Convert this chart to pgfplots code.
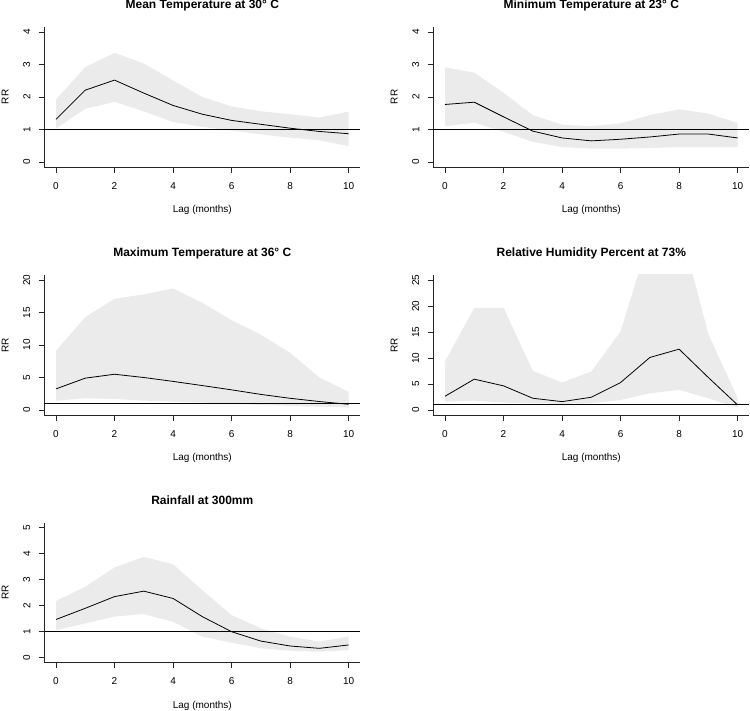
\documentclass[border=0pt]{standalone}
\usepackage{fontspec}
\setmainfont{Liberation Sans}
\usepackage{pgfplots}
\pgfplotsset{compat=1.18}
\definecolor{bandgray}{RGB}{235,235,235}

\pgfplotsset{
  rrpanel/.style={
    scale only axis, width=316pt, height=140.4pt, anchor=south west,
    axis x line*=bottom, axis y line*=left,
    axis line style={-, line width=0.9pt, black!85},
    tick align=outside, major tick length=5.5pt,
    tick style={line width=0.9pt, black!85},
    xmin=-0.4, xmax=10.4, xtick={0,2,4,6,8,10},
    /pgf/number format/assume math mode=true,
    tick label style={font=\fontsize{10}{12}\selectfont},
    xticklabel style={yshift=-6pt},
    yticklabel style={xshift=-5pt, rotate=90, anchor=south},
    label style={font=\fontsize{10}{12}\selectfont},
    xlabel={Lag (months)}, ylabel={RR},
    xlabel style={at={(axis description cs:0.5,-0.306)}, anchor=center},
    ylabel style={at={(axis description cs:-0.1235,0.5)}, anchor=center},
    every axis title shift=0pt,
    title style={at={(axis description cs:0.5,1.127)}, anchor=base, font=\fontsize{12}{14}\bfseries\selectfont},
  },
}

\begin{document}
\begin{tikzpicture}
\useasboundingbox (0,0) rectangle (750pt,710pt);

% Mean temperature
\begin{axis}[rrpanel, at={(44.3pt,542.8pt)}, ymin=-0.16, ymax=4.16, ytick={0,1,2,3,4},
  title={Mean Temperature at 30° C}]
\addplot[fill=bandgray, draw=none] coordinates {
 (0,1.92) (1,2.92) (2,3.36) (3,3.03) (4,2.51) (5,2.00) (6,1.71) (7,1.56) (8,1.47) (9,1.37) (10,1.55)
 (10,0.49) (9,0.67) (8,0.75) (7,0.85) (6,0.97) (5,1.08) (4,1.23) (3,1.56) (2,1.85) (1,1.64) (0,1.03)} -- cycle;
\addplot[black, line width=0.8pt] coordinates {
 (0,1.31) (1,2.21) (2,2.52) (3,2.12) (4,1.74) (5,1.47) (6,1.28) (7,1.16) (8,1.04) (9,0.94) (10,0.87)};
\addplot[black, line width=0.8pt] coordinates {(-0.4,1) (10.4,1)};
\end{axis}

% Minimum temperature
\begin{axis}[rrpanel, at={(433.3pt,542.8pt)}, ymin=-0.16, ymax=4.16, ytick={0,1,2,3,4},
  title={Minimum Temperature at 23° C}]
\addplot[fill=bandgray, draw=none] coordinates {
 (0,2.91) (1,2.75) (2,2.13) (3,1.44) (4,1.15) (5,1.10) (6,1.19) (7,1.44) (8,1.62) (9,1.49) (10,1.20)
 (10,0.46) (9,0.46) (8,0.46) (7,0.43) (6,0.41) (5,0.41) (4,0.46) (3,0.62) (2,0.93) (1,1.21) (0,1.10)} -- cycle;
\addplot[black, line width=0.8pt] coordinates {
 (0,1.77) (1,1.84) (2,1.39) (3,0.95) (4,0.74) (5,0.65) (6,0.70) (7,0.77) (8,0.86) (9,0.86) (10,0.74)};
\addplot[black, line width=0.8pt] coordinates {(-0.4,1) (10.4,1)};
\end{axis}

% Maximum temperature
\begin{axis}[rrpanel, at={(44.3pt,294.8pt)}, ymin=-0.8, ymax=20.8, ytick={0,5,10,15,20},
  title={Maximum Temperature at 36° C}]
\addplot[fill=bandgray, draw=none] coordinates {
 (0,9.1) (1,14.3) (2,17.1) (3,17.8) (4,18.7) (5,16.5) (6,13.8) (7,11.6) (8,8.8) (9,5.0) (10,2.8)
 (10,0.41) (9,0.52) (8,0.62) (7,0.77) (6,0.98) (5,1.13) (4,1.30) (3,1.44) (2,1.70) (1,1.80) (0,1.44)} -- cycle;
\addplot[black, line width=0.8pt] coordinates {
 (0,3.25) (1,4.90) (2,5.50) (3,5.00) (4,4.40) (5,3.76) (6,3.10) (7,2.40) (8,1.80) (9,1.30) (10,0.88)};
\addplot[black, line width=0.8pt] coordinates {(-0.4,1) (10.4,1)};
\end{axis}

% Relative humidity
\begin{axis}[rrpanel, at={(433.3pt,294.8pt)}, ymin=-1, ymax=26, ytick={0,5,10,15,20,25},
  title={Relative Humidity Percent at 73\%}]
\addplot[fill=bandgray, draw=none] coordinates {
 (0,9.34) (1,19.65) (2,19.65) (3,7.54) (4,5.28) (5,7.40) (6,15.1) (7,33.4) (8,36.0) (9,14.6) (10,2.3)
 (10,0.45) (9,2.26) (8,3.87) (7,3.20) (6,1.93) (5,1.29) (4,1.16) (3,1.29) (2,1.42) (1,1.80) (0,1.60)} -- cycle;
\addplot[black, line width=0.8pt] coordinates {
 (0,2.64) (1,5.93) (2,4.64) (3,2.26) (4,1.61) (5,2.45) (6,5.28) (7,10.1) (8,11.7) (9,6.25) (10,0.97)};
\addplot[black, line width=0.8pt] coordinates {(-0.4,1) (10.4,1)};
\end{axis}

% Rainfall
\begin{axis}[rrpanel, at={(44.3pt,47.1pt)}, ymin=-0.2, ymax=5.2, ytick={0,1,2,3,4,5},
  title={Rainfall at 300mm}]
\addplot[fill=bandgray, draw=none] coordinates {
 (0,2.18) (1,2.73) (2,3.47) (3,3.88) (4,3.59) (5,2.60) (6,1.64) (7,1.13) (8,0.81) (9,0.62) (10,0.81)
 (10,0.29) (9,0.23) (8,0.27) (7,0.36) (6,0.58) (5,0.81) (4,1.38) (3,1.68) (2,1.58) (1,1.32) (0,1.06)} -- cycle;
\addplot[black, line width=0.8pt] coordinates {
 (0,1.47) (1,1.90) (2,2.35) (3,2.56) (4,2.28) (5,1.58) (6,1.00) (7,0.64) (8,0.45) (9,0.36) (10,0.49)};
\addplot[black, line width=0.8pt] coordinates {(-0.4,1) (10.4,1)};
\end{axis}

\end{tikzpicture}
\end{document}
